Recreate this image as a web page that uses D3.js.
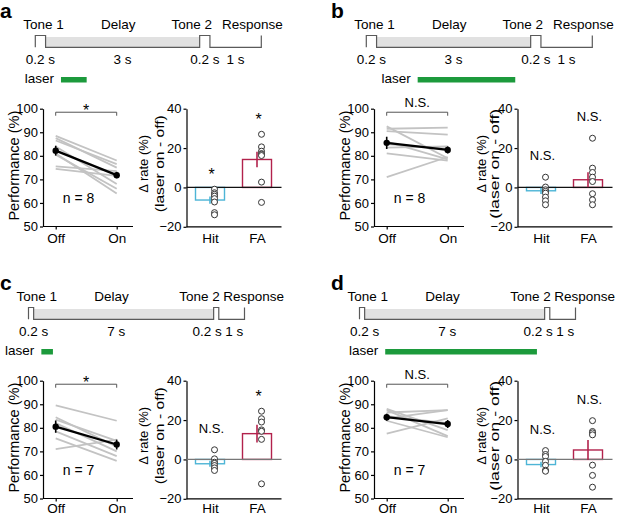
<!DOCTYPE html>
<html>
<head>
<meta charset="utf-8">
<script src="https://cdn.jsdelivr.net/npm/d3@7"></script>
<style>
  body { margin: 0; background: #fff; }
  svg { display: block; font-family: "Liberation Sans", Arial, Helvetica, sans-serif; }
</style>
</head>
<body>
<div class="chart"></div>
<script>
// panels and trial structure (seconds)
var panels = ["a", "b", "c", "d"];
var epochs = ["Tone 1", "Delay", "Tone 2", "Response"];
var delays = [3, 3, 7, 7];
var laserWindows = [[0.5, 1.0], [1.0, 2.9], [0.5, 0.95], [1.0, 6.9]];

var conditions = ["Off", "On"];
var trialTypes = ["Hit", "FA"];
var perfTicks = [50, 60, 70, 80, 90, 100];
var rateTicks = [-20, 0, 20, 40];

// performance (%) of each animal, laser off / on
var perfOff = [
  [88.5, 87.5, 86.5, 84, 81, 80.5, 75.5, 74.5],
  [92.5, 91.5, 90.5, 86, 85, 83.5, 81, 71],
  [89.5, 84.5, 83.5, 82, 78.5, 75.5, 71],
  [88, 87.5, 86.5, 85, 84, 83, 77.5]
];
var perfOn = [
  [78, 75, 76.5, 68, 64, 66, 73.5, 71.5],
  [79, 92, 89, 78.5, 83, 84, 78, 79.5],
  [83, 72, 74.5, 70, 68, 66, 75],
  [79, 76.5, 87.5, 82, 87.5, 76, 84]
];
var perfMean = [[82.2, 71.8], [85.5, 82.5], [80.5, 72.9], [84.5, 81.6]];
var perfSem = [[2.1, 1.4], [2.6, 1.5], [2.6, 2.1], [1.5, 1.7]];
var perfSig = ["*", "N.S.", "*", "N.S."];

// change of hit / false alarm rate (laser on - off, %)
var hitDelta = [
  [-0.9, -2.7, -3.5, -4.4, -5.7, -7.4, -12.8, -13.9],
  [5.2, 0.2, -1.2, -2, -2.9, -4.9, -6.8, -8.8],
  [4.9, 0.3, -1.4, -2, -3.1, -4.3, -5.6],
  [4.5, 2.5, 1.5, -1, -3, -5.5, -6]
];
var faDelta = [
  [27, 20.6, 18.4, 17.2, 16.8, 16.2, 2.7, -7.6],
  [25, 9.8, 7.6, 5.2, 3, -3.2, -6.3, -8.8],
  [24.5, 20.7, 19, 15, 14.3, 10.2, -12.4],
  [19.7, 14.2, 13.5, 12.5, -2.9, -8.1, -14.1]
];
var rateMean = [[-6.4, 14.2], [-1.7, 3.9], [-2.2, 13.1], [-2.6, 4.8]];
var rateSem = [[1.85, 3.9], [1.6, 3.8], [1.5, 4.5], [1.4, 5.1]];
var rateSig = [["*", "*"], ["N.S.", "N.S."], ["N.S.", "*"], ["N.S.", "N.S."]];

var hitColor = "#4db5d6", faColor = "#b2224c", laserColor = "#1c9a3c";

var svg = d3.select(".chart").append("svg")
  .attr("width", 617)
  .attr("height", 516);

panels.forEach(function (p, i) {
  var col = i % 2, row = Math.floor(i / 2);
  var ox = col * 331, oy = row * 272;
  var g = svg.append("g");

  // panel letter
  g.append("text").attr("x", ox).attr("y", oy + 18)
    .attr("font-size", 21).attr("font-weight", "bold").text(p);

  // ---- trial timeline ----
  var tlX = ox + (row ? 28.5 : 35.3), tlW = row ? 216 : 226;
  var durs = [0.2, delays[i], 0.2, 1];
  var edges = [0];
  durs.forEach(function (d, k) { edges.push(edges[k] + d); });
  var t = d3.scaleLinear().domain([0, edges[4]]).range([tlX, tlX + tlW]);
  var top = oy + 35.5, base = oy + 47.3;

  g.append("rect")
    .attr("x", t(edges[1])).attr("y", top + 1.5)
    .attr("width", t(edges[2]) - t(edges[1])).attr("height", base - top - 1.5)
    .attr("fill", "#e1e1e1");

  var path = d3.path();
  path.moveTo(t(0), base); path.lineTo(t(0), top); path.lineTo(t(edges[1]), top); path.lineTo(t(edges[1]), base);
  path.lineTo(t(edges[2]), base); path.lineTo(t(edges[2]), top); path.lineTo(t(edges[3]), top); path.lineTo(t(edges[3]), base);
  path.lineTo(t(edges[4]), base); path.lineTo(t(edges[4]), top);
  g.append("path").attr("d", path.toString())
    .attr("fill", "none").attr("stroke", "#5a5a5a").attr("stroke-width", 1.2);

  // epoch names
  var headY = oy + 28.5;
  var headX = [t(0) - 12, t(0) + 83, t(edges[3]) + (row ? 1 : 2), t(edges[3]) + (row ? 4.5 : 12)];
  var headAnchor = ["start", "middle", "end", "start"];
  epochs.forEach(function (e, k) {
    g.append("text").attr("x", headX[k]).attr("y", headY)
      .attr("text-anchor", headAnchor[k]).attr("font-size", 13.5).text(e);
  });

  // durations
  var nudge = row ? [2.5, -7.5, -9, 2.5] : [0, 0, 0, 0];
  durs.forEach(function (d, k) {
    g.append("text")
      .attr("x", (t(edges[k]) + t(edges[k + 1])) / 2 + nudge[k])
      .attr("y", oy + 63.5)
      .attr("text-anchor", "middle").attr("font-size", 13.5)
      .text(d + " s");
  });

  // laser window
  var lw = laserWindows[i];
  g.append("text").attr("x", t(lw[0]) - 7).attr("y", oy + 82.5)
    .attr("text-anchor", "end").attr("font-size", 13.5).text("laser");
  g.append("rect").attr("x", t(lw[0])).attr("y", oy + 77)
    .attr("width", t(lw[1]) - t(lw[0])).attr("height", 5.5)
    .attr("fill", laserColor);

  // ---- performance plot ----
  var ax = ox + 43;
  var y = d3.scaleLinear().domain([50, 100]).range([oy + 226.5, oy + 108.7]);
  var x = d3.scalePoint().domain(conditions).range([ax + 12.7, ax + 73.7]);
  var pad = row ? 2 : 4;

  var yAxis = g.append("g").attr("transform", "translate(" + ax + ",0)")
    .call(d3.axisLeft(y).tickValues(perfTicks).tickSize(3).tickSizeOuter(0).tickPadding(2));
  var xAxis = g.append("g").attr("transform", "translate(0," + y(50) + ")")
    .call(d3.axisBottom(x).tickSize(3).tickPadding(pad));
  xAxis.select(".domain").remove();
  g.append("line").attr("x1", ax).attr("x2", ax + 90)
    .attr("y1", y(50)).attr("y2", y(50)).attr("stroke", "#000").attr("stroke-width", 1.2);
  [yAxis, xAxis].forEach(function (a) {
    a.attr("font-family", null).attr("font-size", null);
    a.selectAll("text").attr("font-size", 13).attr("fill", "#000");
    a.selectAll("line, path").attr("stroke", "#000").attr("stroke-width", 1.2);
  });
  xAxis.selectAll("text").attr("font-size", 13.5);

  g.append("text")
    .attr("transform", "translate(" + (ax - 29) + "," + (y(75) - 2) + ") rotate(-90)")
    .attr("dy", "0.35em").attr("text-anchor", "middle").attr("font-size", 14)
    .attr("textLength", 110).attr("lengthAdjust", "spacingAndGlyphs")
    .text("Performance (%)");

  // individual animals
  g.append("g").selectAll("line")
    .data(perfOff[i].map(function (v, k) { return [v, perfOn[i][k]]; }))
    .enter().append("line")
    .attr("x1", x("Off")).attr("x2", x("On"))
    .attr("y1", function (d) { return y(d[0]); })
    .attr("y2", function (d) { return y(d[1]); })
    .attr("stroke", "#c3c3c3").attr("stroke-width", 1.8);

  // mean +- sem
  var pm = perfMean[i], ps = perfSem[i];
  g.append("line").attr("x1", x("Off")).attr("x2", x("On"))
    .attr("y1", y(pm[0])).attr("y2", y(pm[1]))
    .attr("stroke", "#000").attr("stroke-width", 2.2);
  conditions.forEach(function (c, k) {
    g.append("line").attr("x1", x(c)).attr("x2", x(c))
      .attr("y1", y(pm[k] - ps[k])).attr("y2", y(pm[k] + ps[k]))
      .attr("stroke", "#000").attr("stroke-width", 1.6);
    g.append("circle").attr("cx", x(c)).attr("cy", y(pm[k])).attr("r", 3.2).attr("fill", "#000");
  });

  // significance bracket
  var yb = y(98.5);
  g.append("path")
    .attr("d", "M" + x("Off") + "," + (yb + 3.5) + "V" + yb + "H" + x("On") + "V" + (yb + 3.5))
    .attr("fill", "none").attr("stroke", "#555").attr("stroke-width", 1);
  g.append("text").attr("x", (x("Off") + x("On")) / 2)
    .attr("y", perfSig[i] === "*" ? yb + 3.5 : yb - 5)
    .attr("text-anchor", "middle").attr("font-size", perfSig[i] === "*" ? 16 : 13)
    .text(perfSig[i]);

  g.append("text").attr("x", ax + 35.5).attr("y", y(60) + 0.5)
    .attr("text-anchor", "middle").attr("font-size", 14)
    .text("n = " + perfOff[i].length);

  // ---- delta rate bar plot ----
  var bx = ox + 186.5;
  var yr = d3.scaleLinear().domain([-20, 40]).range([oy + 226.8, oy + 108.7]);
  var xr = d3.scalePoint().domain(trialTypes).range([bx + 23.5, bx + 70.5]);
  var barW = 29;

  var ryAxis = g.append("g").attr("transform", "translate(" + bx + ",0)")
    .call(d3.axisLeft(yr).tickValues(rateTicks).tickSize(3).tickSizeOuter(0).tickPadding(2));
  var rxAxis = g.append("g").attr("transform", "translate(0," + yr(-20) + ")")
    .call(d3.axisBottom(xr).tickSize(0).tickPadding(pad + 2.5));
  rxAxis.select(".domain").remove();
  g.append("line").attr("x1", bx).attr("x2", bx + 95)
    .attr("y1", yr(-20)).attr("y2", yr(-20)).attr("stroke", "#000").attr("stroke-width", 1.2);
  [ryAxis, rxAxis].forEach(function (a) {
    a.attr("font-family", null).attr("font-size", null);
    a.selectAll("text").attr("font-size", 13).attr("fill", "#000");
    a.selectAll("line, path").attr("stroke", "#000").attr("stroke-width", 1.2);
  });
  rxAxis.selectAll("text").attr("font-size", 13.5);

  var l1 = col ? 36 : 43, l2 = col ? 23 : 27;
  g.append("text")
    .attr("transform", "translate(" + (bx - l1) + "," + (yr(10) - 4) + ") rotate(-90)")
    .attr("dy", "0.35em").attr("text-anchor", "middle").attr("font-size", 13)
    .text("\u0394 rate (%)");
  g.append("text")
    .attr("transform", "translate(" + (bx - l2) + "," + (yr(10) - 4) + ") rotate(-90)")
    .attr("dy", "0.35em").attr("text-anchor", "middle").attr("font-size", 13)
    .attr("textLength", col ? 110 : 97).attr("lengthAdjust", "spacingAndGlyphs")
    .text("(laser on - off)");

  var groups = [hitDelta[i], faDelta[i]];
  var colors = [hitColor, faColor];
  trialTypes.forEach(function (tt, k) {
    var m = rateMean[i][k];
    g.append("rect")
      .attr("x", xr(tt) - barW / 2).attr("width", barW)
      .attr("y", Math.min(yr(m), yr(0)))
      .attr("height", Math.abs(yr(m) - yr(0)))
      .attr("fill", "#fff").attr("stroke", colors[k]).attr("stroke-width", 1.4);
  });
  g.append("line").attr("x1", bx).attr("x2", bx + 95)
    .attr("y1", yr(0)).attr("y2", yr(0))
    .attr("stroke", row ? "#777" : "#111").attr("stroke-width", 1.3);
  trialTypes.forEach(function (tt, k) {
    var m = rateMean[i][k], s = rateSem[i][k];
    g.append("line").attr("x1", xr(tt)).attr("x2", xr(tt))
      .attr("y1", yr(m - s)).attr("y2", yr(m + s))
      .attr("stroke", colors[k]).attr("stroke-width", 1.6);
    g.append("g").selectAll("circle").data(groups[k]).enter().append("circle")
      .attr("cx", xr(tt) + 4.5)
      .attr("cy", function (d) { return yr(d); })
      .attr("r", 3)
      .attr("fill", "#fff").attr("stroke", "#333").attr("stroke-width", 1);
    var sig = rateSig[i][k];
    var top = yr(d3.max(groups[k]));
    g.append("text").attr("x", xr(tt) + 1.5)
      .attr("y", sig === "*" ? top - 9 : top - 17)
      .attr("text-anchor", "middle").attr("font-size", sig === "*" ? 16 : 13)
      .text(sig);
  });
});
</script>
</body>
</html>
